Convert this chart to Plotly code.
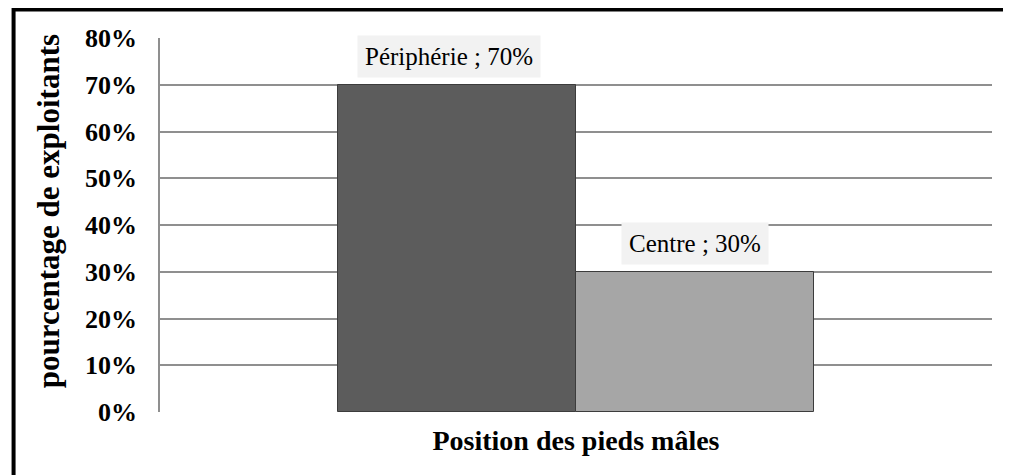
import plotly.graph_objects as go

# data
positions = ["Périphérie", "Centre"]
pct_exploitants = [70, 30]
bar_colors = ["#5c5c5c", "#a6a6a6"]
y_ticks = [0, 10, 20, 30, 40, 50, 60, 70, 80]
y_tick_labels = [f"{t}%" for t in y_ticks]

serif = "Liberation Serif, Times New Roman, serif"

fig = go.Figure()

fig.add_trace(go.Bar(
    x=positions,
    y=pct_exploitants,
    marker=dict(color=bar_colors, line=dict(color="#3c3c3c", width=1)),
    width=1,
    showlegend=False,
    hoverinfo="skip"))

# data labels with a light grey box, like the Excel callout labels
label_nudge = {"Périphérie": -8, "Centre": 0}
for p, v in zip(positions, pct_exploitants):
    fig.add_annotation(
        x=p, y=v,
        text=f"{p} ; {v}%",
        showarrow=False,
        yanchor="bottom",
        yshift=7,
        xshift=label_nudge[p],
        bgcolor="#f2f2f2",
        borderpad=7,
        font=dict(family=serif, size=25, color="black"))

# y title placed by hand
fig.add_annotation(
    xref="paper", yref="paper", x=-0.1346, y=0.537,
    text="<b>pourcentage de exploitants</b>", textangle=-90,
    showarrow=False, xanchor="center", yanchor="middle",
    font=dict(family=serif, size=31, color="black"))

# outer black frame
fig.add_shape(type="rect", xref="paper", yref="paper",
              x0=-0.176, x1=1.05, y0=-0.25, y1=1.076,
              line=dict(color="black", width=4), fillcolor="rgba(0,0,0,0)",
              layer="below")

# the page body adds 8px, so margins are shifted to land the plot area right
fig.update_layout(
    width=1011, height=475,
    margin={'l': 152, 'b': 71, 't': 30, 'r': 27},
    plot_bgcolor="white",
    paper_bgcolor="white",
    bargap=0,
    xaxis=dict(
        range=[-1.248, 2.248],
        showticklabels=False,
        showgrid=False,
        zeroline=False,
        showline=False,
        title=dict(text="<b>Position des pieds mâles</b>", standoff=18,
                   font=dict(family=serif, size=28, color="black"))
    ),
    yaxis=dict(
        range=[0, 80],
        tickmode="array",
        tickvals=y_ticks,
        ticktext=y_tick_labels,
        tickfont=dict(family=serif, size=26, color="black", weight="bold"),
        ticks="",
        ticklabelstandoff=16,
        showgrid=True,
        gridcolor="#8f8f8f",
        gridwidth=1.5,
        zeroline=False,
        showline=True,
        linecolor="#8f8f8f",
        linewidth=1.5
    ))

fig.write_html("out.html")
